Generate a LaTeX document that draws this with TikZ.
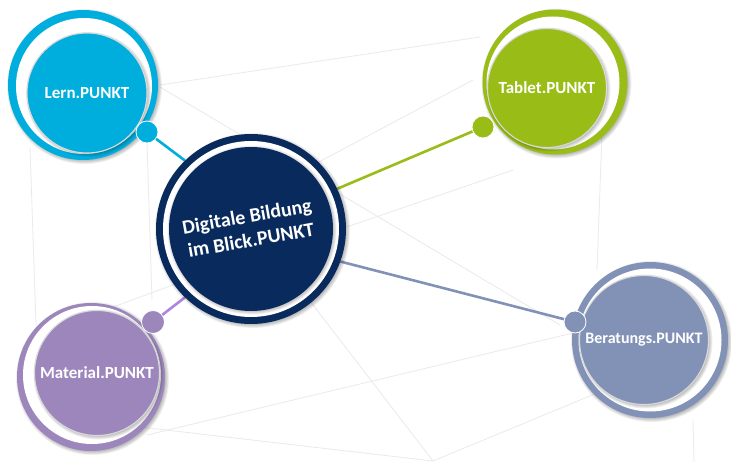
\documentclass[tikz,border=0pt]{standalone}
\usepackage{fontspec}
\setmainfont{Carlito}
\usetikzlibrary{backgrounds}
\definecolor{lernc}{RGB}{0,174,222}
\definecolor{tabc}{RGB}{153,189,22}
\definecolor{matc}{RGB}{156,134,188}
\definecolor{matl}{RGB}{176,132,222}
\definecolor{berc}{RGB}{130,146,182}
\definecolor{navy}{RGB}{8,42,92}
\definecolor{wirec}{RGB}{234,234,236}
\newcommand\mysoftshadow[3]{%
  \foreach \k in {0,1,2,3,4}{\fill[black, opacity=0.06] (#1+1.5,#2+1.5) circle ({#3+2.5-0.9*\k});}}
\begin{document}
\begin{tikzpicture}[x=1pt,y=-1pt,
  wire/.style={draw=wirec, line width=0.8pt},
  conn/.style={draw=#1, line width=2.6pt},
  outerdisk/.style={circle, inner sep=0pt, fill=#1},
  whitedisk/.style={circle, inner sep=0pt, fill=white},
  innerdisk/.style={circle, inner sep=0pt, fill=#1, draw=black!15, line width=1.1pt,
    text=white, font=\fontsize{17}{20}\selectfont\bfseries},
  dotdisk/.style={circle, inner sep=0pt, minimum size=22pt, fill=#1, draw=white, line width=0.8pt}]
\useasboundingbox (0,0) rectangle (731,462);

% faint wireframe background
\begin{scope}[on background layer]
\fill[white] (0,0) rectangle (731,462);
\draw[wire] (160,85) -- (480,37);
\draw[wire] (160,87) -- (560,325);
\draw[wire] (473,80) -- (300,172);
\draw[wire] (513,170) -- (300,243);
\draw[wire] (602,133) -- (597,270);
\draw[wire] (30,147) -- (36,325);
\draw[wire] (147,143) -- (152,300);
\draw[wire] (113,307) -- (200,275);
\draw[wire] (290,275) -- (433,461);
\draw[wire] (147,435) -- (573,333);
\draw[wire] (140,427) -- (433,461);
\draw[wire] (433,461) -- (597,393);
\draw[wire] (693,420) -- (694,462);
\end{scope}

% central circle
\mysoftshadow{251}{229}{95}
\node[outerdisk=navy, minimum size=190pt] (ctr) at (251,229) {};
\node[whitedisk, minimum size=176pt] (ctrW) at (251,229) {};
\mysoftshadow{250.5}{228.5}{82}
\node[circle, inner sep=0pt, fill=navy, minimum size=164pt] (ctrI) at (251,229) {};
\node[text=white, font=\fontsize{20}{24}\selectfont\bfseries, align=center, rotate=10] (ctrT) at (249,228) {Digitale Bildung\\im Blick.PUNKT};

% Lern.PUNKT
\mysoftshadow{83}{85}{75}
\node[outerdisk=lernc, minimum size=150pt] (lern) at (83,85) {};
\node[whitedisk, minimum size=136pt] (lernW) at (84,86) {};
\mysoftshadow{87}{93}{60}
\node[innerdisk=lernc, minimum size=120pt] (lernI) at (87,93) {Lern.PUNKT};
\node[dotdisk=lernc] (lernD) at (147,132) {};

% Tablet.PUNKT
\mysoftshadow{555}{82}{72.5}
\node[outerdisk=tabc, minimum size=145pt] (tab) at (555,82) {};
\node[whitedisk, minimum size=133pt] (tabW) at (553,83) {};
\mysoftshadow{547}{88}{59.5}
\node[innerdisk=tabc, minimum size=119pt] (tabI) at (547,88) {Tablet.PUNKT};
\node[dotdisk=tabc] (tabD) at (483,127) {};

% Material.PUNKT
\mysoftshadow{91}{377}{74}
\node[outerdisk=matc, minimum size=148pt] (mat) at (91,377) {};
\node[whitedisk, minimum size=138pt] (matW) at (92,375) {};
\mysoftshadow{97}{373}{62.5}
\node[innerdisk=matc, minimum size=125pt] (matI) at (97,373) {Material.PUNKT};
\node[dotdisk=matc, minimum size=23pt] (matD) at (153,322) {};

% Beratungs.PUNKT
\mysoftshadow{650}{340}{78}
\node[outerdisk=berc, minimum size=156pt] (ber) at (650,340) {};
\node[whitedisk, minimum size=143pt] (berW) at (650,340) {};
\mysoftshadow{644}{340}{64.5}
\node[innerdisk=berc, minimum size=129pt, font=\fontsize{16}{19}\selectfont\bfseries] (berI) at (644,340) {Beratungs.PUNKT};
\node[dotdisk=berc] (berD) at (575,322) {};

% connectors
\begin{scope}[on background layer]
\draw[conn=lernc] (lernD.center) -- (ctr.134);
\draw[conn=tabc] (tabD.center) -- (ctr.25);
\draw[conn=berc] (berD.center) -- (ctr.-20);
\draw[conn=matl] (matD.center) -- (ctr.226);
\end{scope}
\end{tikzpicture}
\end{document}
